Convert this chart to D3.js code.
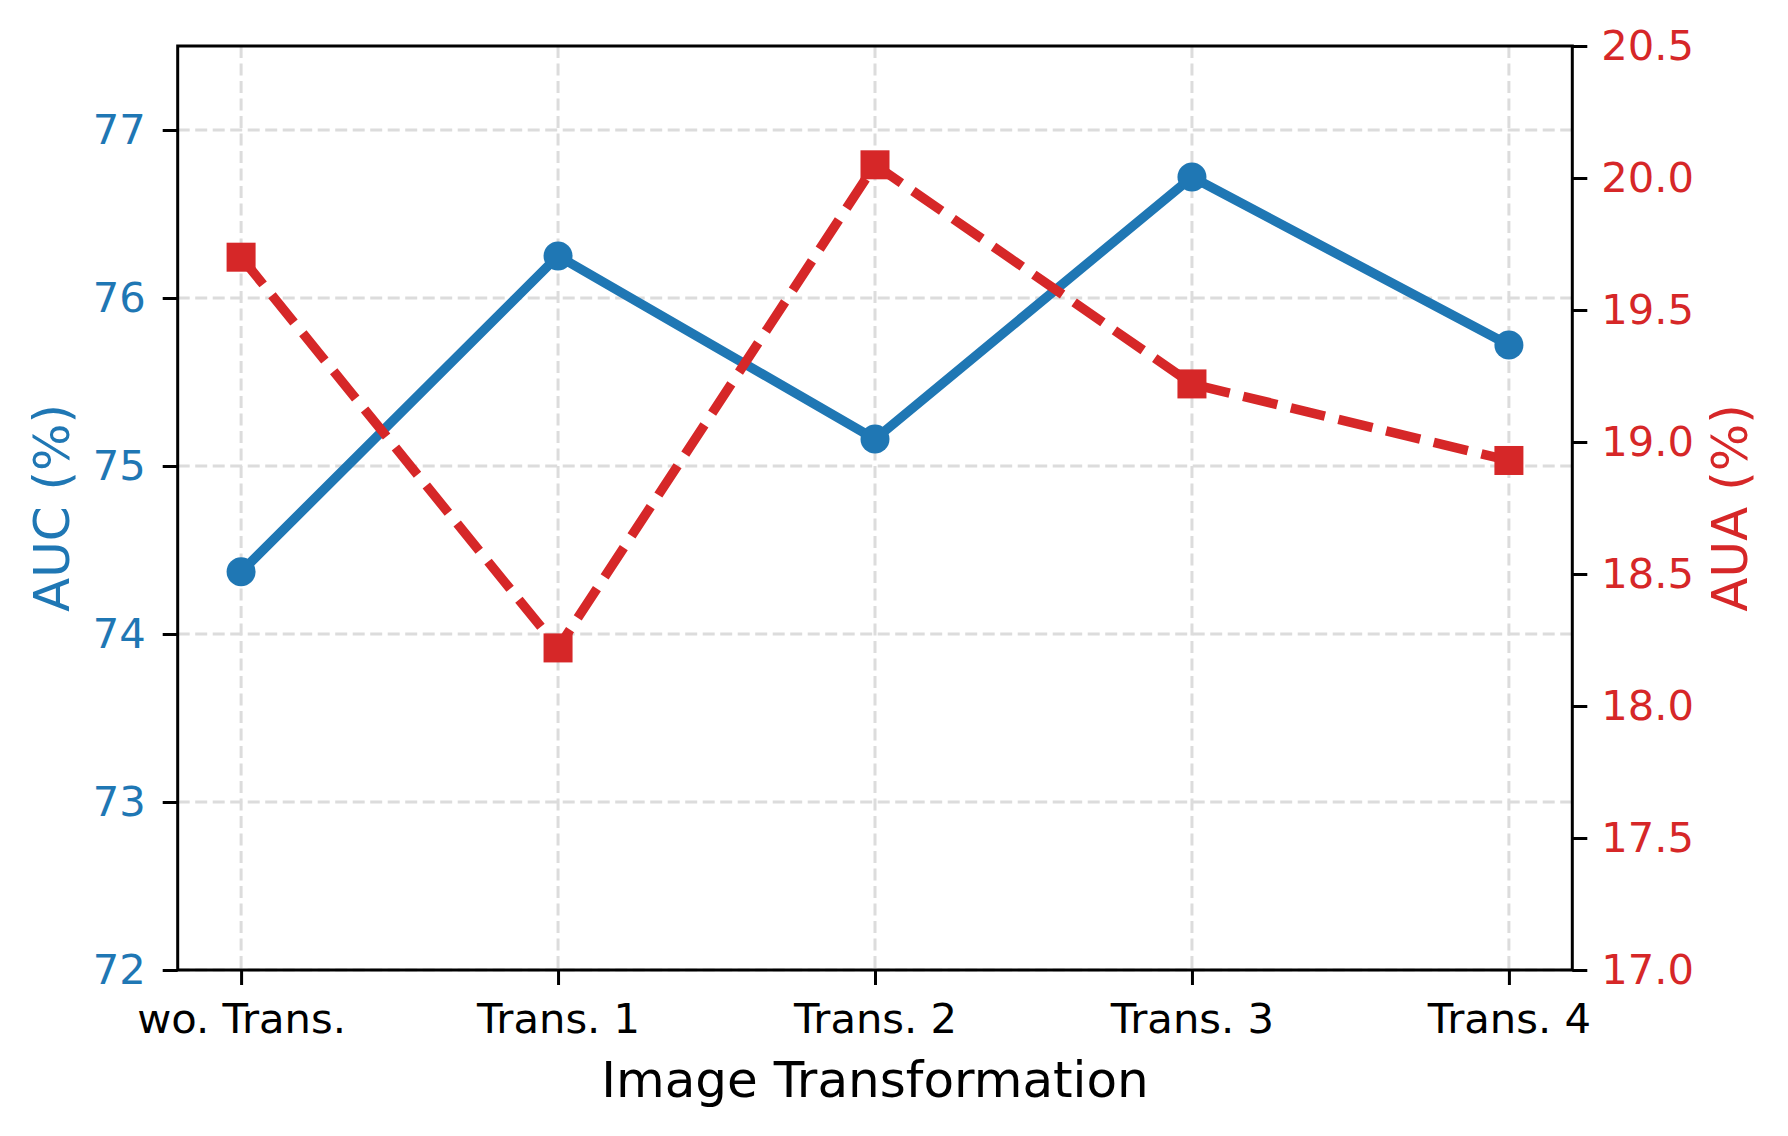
<!DOCTYPE html>
<html>
<head>
<meta charset="utf-8">
<script src="https://cdn.jsdelivr.net/npm/d3@7"></script>
<style>
  html, body { margin: 0; padding: 0; background: #ffffff; }
  svg { display: block; font-family: "DejaVu Sans", sans-serif; }
</style>
</head>
<body>
<svg id="chart" width="1788" height="1136"></svg>
<script>
// ---- data ----
const categories = ["wo. Trans.", "Trans. 1", "Trans. 2", "Trans. 3", "Trans. 4"];
const aucValues = [74.37, 76.25, 75.16, 76.72, 75.72];
const auaValues = [19.70, 18.22, 20.05, 19.22, 18.93];
const aucTicks = [72, 73, 74, 75, 76, 77];
const auaTicks = [17.0, 17.5, 18.0, 18.5, 19.0, 19.5, 20.0, 20.5];
const xLabel = "Image Transformation";
const leftLabel = "AUC (%)";
const rightLabel = "AUA (%)";

// ---- layout ----
const W = 1788, H = 1136;
const plot = { left: 177.7, right: 1572.3, top: 46, bottom: 970 };
const blue = "#1f77b4", red = "#d62728";
const tickFont = 41.7, labelFont = 50;

const svg = d3.select("#chart");
svg.append("rect").attr("width", W).attr("height", H).attr("fill", "#fff");

const idx = categories.map((d, i) => i);
const x = d3.scaleLinear().domain([-0.2, categories.length - 1 + 0.2]).range([plot.left, plot.right]);
const yL = d3.scaleLinear().domain([72, 77.5]).range([plot.bottom, plot.top]);
const yR = d3.scaleLinear().domain([17, 20.5]).range([plot.bottom, plot.top]);

// grid
const grid = svg.append("g").attr("stroke", "#dcdcdc").attr("stroke-width", 3)
  .attr("stroke-dasharray", "12,5.5").attr("fill", "none");
grid.selectAll("line.v").data(idx).join("line")
  .attr("x1", d => x(d)).attr("x2", d => x(d))
  .attr("y1", plot.top).attr("y2", plot.bottom);
grid.selectAll("line.h").data(aucTicks).join("line")
  .attr("x1", plot.left).attr("x2", plot.right)
  .attr("y1", d => yL(d)).attr("y2", d => yL(d));

// blue line (AUC)
const lineL = d3.line().x((d, i) => x(i)).y(d => yL(d));
svg.append("path").datum(aucValues).attr("d", lineL)
  .attr("fill", "none").attr("stroke", blue).attr("stroke-width", 9.5)
  .attr("stroke-linejoin", "round").attr("stroke-linecap", "butt");
svg.selectAll("circle.auc").data(aucValues).join("circle")
  .attr("cx", (d, i) => x(i)).attr("cy", d => yL(d)).attr("r", 14.5).attr("fill", blue);

// red line (AUA)
const lineR = d3.line().x((d, i) => x(i)).y(d => yR(d));
svg.append("path").datum(auaValues).attr("d", lineR)
  .attr("fill", "none").attr("stroke", red).attr("stroke-width", 9.5)
  .attr("stroke-dasharray", "35,14").attr("stroke-linejoin", "round");
const sq = 29;
svg.selectAll("rect.aua").data(auaValues).join("rect")
  .attr("x", (d, i) => x(i) - sq / 2).attr("y", d => yR(d) - sq / 2)
  .attr("width", sq).attr("height", sq).attr("fill", red);

// spines
svg.append("rect").attr("x", plot.left).attr("y", plot.top)
  .attr("width", plot.right - plot.left).attr("height", plot.bottom - plot.top)
  .attr("fill", "none").attr("stroke", "#000").attr("stroke-width", 3);

// axes
function styleAxis(g, color) {
  g.select(".domain").remove();
  g.selectAll(".tick line").attr("stroke", "#000").attr("stroke-width", 3);
  g.selectAll(".tick text").attr("fill", color).attr("font-size", tickFont)
    .attr("font-family", "DejaVu Sans");
}
const gx = svg.append("g").attr("transform", `translate(0,${plot.bottom})`)
  .call(d3.axisBottom(x).tickValues(idx).tickFormat(i => categories[i]).tickSize(15).tickPadding(18.5));
styleAxis(gx, "#000");

const gl = svg.append("g").attr("transform", `translate(${plot.left},0)`)
  .call(d3.axisLeft(yL).tickValues(aucTicks).tickFormat(d3.format("d")).tickSize(15).tickPadding(17));
styleAxis(gl, blue);

const gr = svg.append("g").attr("transform", `translate(${plot.right},0)`)
  .call(d3.axisRight(yR).tickValues(auaTicks).tickFormat(d3.format(".1f")).tickSize(15).tickPadding(14));
styleAxis(gr, red);

// labels
const cy = (plot.top + plot.bottom) / 2;
svg.append("text").attr("x", (plot.left + plot.right) / 2).attr("y", 1097)
  .attr("text-anchor", "middle").attr("font-size", labelFont).attr("fill", "#000").text(xLabel);
svg.append("text").attr("transform", `translate(69,${cy}) rotate(-90)`)
  .attr("text-anchor", "middle").attr("font-size", labelFont).attr("fill", blue).text(leftLabel);
svg.append("text").attr("transform", `translate(1747,${cy}) rotate(-90)`)
  .attr("text-anchor", "middle").attr("font-size", labelFont).attr("fill", red).text(rightLabel);
</script>
</body>
</html>
